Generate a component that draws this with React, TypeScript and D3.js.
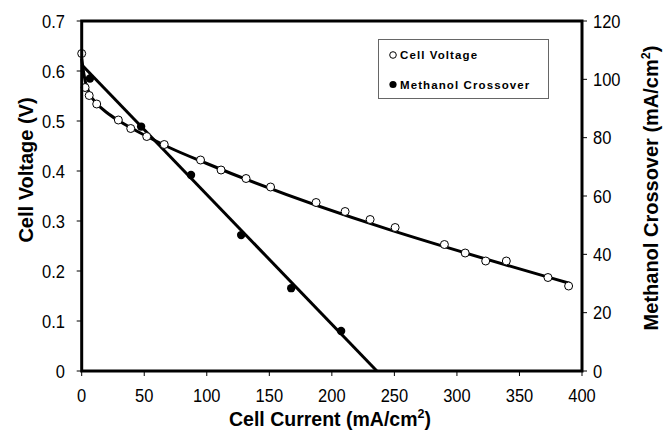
import React from "react";
import * as d3 from "d3";

const vCurrent = [0, 2.7, 6, 12, 29.3, 39.2, 52, 66, 95, 111.4, 131.4, 151, 187.4, 210.6, 230.6, 250.6, 290, 306.6, 323, 339.5, 372.8, 389.3];
const vVoltage = [0.635, 0.567, 0.551, 0.534, 0.502, 0.485, 0.469, 0.453, 0.422, 0.402, 0.385, 0.368, 0.337, 0.319, 0.303, 0.287, 0.253, 0.236, 0.22, 0.22, 0.187, 0.17];

const mCurrent = [6.6, 47.5, 87.4, 127.5, 167.5, 207.4];
const mCrossover = [100.3, 83.8, 67.2, 46.6, 28.4, 13.7];

const vFitX = [0, 1.5, 3, 6, 12, 20, 30, 50, 70, 100, 390.6];
const vFitY = [0.625, 0.598, 0.578, 0.556, 0.535, 0.517, 0.5, 0.472, 0.447, 0.415, 0.175];

const mFitX = [0, 236];
const mFitY = [105, 0];

const xTicks = [0, 50, 100, 150, 200, 250, 300, 350, 400];
const yLeftTicks = [0, 0.1, 0.2, 0.3, 0.4, 0.5, 0.6, 0.7];
const yRightTicks = [0, 20, 40, 60, 80, 100, 120];

const W = 668, H = 431;
const L = 81.7, R = 582, T = 21, B = 371;

export default function App() {
  const x = d3.scaleLinear().domain([0, 400]).range([L, R]);
  const yL = d3.scaleLinear().domain([0, 0.7]).range([B, T]);
  const yR = d3.scaleLinear().domain([0, 120]).range([B, T]);
  const font = "'Liberation Sans', Arial, sans-serif";
  const tf = 16.5;
  const sy = 1.1;

  const vLine = d3.line<number>().x((d, i) => x(vFitX[i])).y((d) => yL(d)).curve(d3.curveMonotoneX);
  const mLine = d3.line<number>().x((d, i) => x(mFitX[i])).y((d) => yR(d));

  return (
    <svg width={W} height={H} style={{ position: "absolute", left: 0, top: 0, background: "#fff" }} fontFamily={font}>
      <rect x={0} y={0} width={W} height={H} fill="#fff" />
      {xTicks.map((t) => (
        <g key={"x" + t}>
          <line x1={x(t)} x2={x(t)} y1={B} y2={B + 5} stroke="#000" strokeWidth={1} />
          <text transform={`translate(${x(t)},401.5) scale(1,${sy})`} textAnchor="middle" fontSize={tf}>{t}</text>
        </g>
      ))}
      {yLeftTicks.map((t) => (
        <g key={"yl" + t}>
          <line x1={L - 5} x2={L} y1={yL(t)} y2={yL(t)} stroke="#000" strokeWidth={1} />
          <text transform={`translate(65,${yL(t) + 6.5}) scale(1,${sy})`} textAnchor="end" fontSize={tf}>{t === 0 ? "0" : t.toFixed(1)}</text>
        </g>
      ))}
      {yRightTicks.map((t) => (
        <g key={"yr" + t}>
          <line x1={R} x2={R + 5} y1={yR(t)} y2={yR(t)} stroke="#000" strokeWidth={1} />
          <text transform={`translate(593,${yR(t) + 6.5}) scale(1,${sy})`} textAnchor="start" fontSize={tf}>{t}</text>
        </g>
      ))}
      <path d={vLine(vFitY) || ""} fill="none" stroke="#000" strokeWidth={3} />
      <path d={mLine(mFitY) || ""} fill="none" stroke="#000" strokeWidth={3} />
      {mCurrent.map((c, i) => (
        <circle key={"m" + i} cx={x(c)} cy={yR(mCrossover[i])} r={4.2} fill="#000" />
      ))}
      {vCurrent.map((c, i) => (
        <circle key={"v" + i} cx={x(c)} cy={yL(vVoltage[i])} r={4} fill="#fff" stroke="#000" strokeWidth={1} />
      ))}
      <rect x={L} y={T} width={R - L} height={B - T} fill="none" stroke="#000" strokeWidth={3} />
      <rect x={378.5} y={39.5} width={170} height={59} fill="#fff" stroke="#666" strokeWidth={1} />
      <circle cx={393} cy={55} r={3.3} fill="#fff" stroke="#000" strokeWidth={1} />
      <text x={400} y={59} fontSize={11.5} fontWeight="bold" letterSpacing={1.1}>Cell Voltage</text>
      <circle cx={393} cy={84.5} r={3.6} fill="#000" />
      <text x={400} y={88.5} fontSize={11.5} fontWeight="bold" letterSpacing={1.1}>Methanol Crossover</text>
      <text x={330} y={426} textAnchor="middle" fontSize={19.5} fontWeight="bold">
        Cell Current (mA/cm<tspan dy={-8} fontSize={12.5}>2</tspan><tspan dy={8}>)</tspan>
      </text>
      <text transform={`translate(33,170) rotate(-90)`} textAnchor="middle" fontSize={20} fontWeight="bold">Cell Voltage (V)</text>
      <text transform={`translate(658,188) rotate(-90)`} textAnchor="middle" fontSize={20} fontWeight="bold">
        Methanol Crossover (mA/cm<tspan dy={-8} fontSize={12.5}>2</tspan><tspan dy={8}>)</tspan>
      </text>
    </svg>
  );
}
